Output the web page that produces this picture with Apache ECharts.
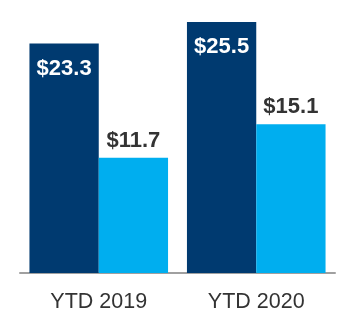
<!DOCTYPE html>
<html><head><meta charset="utf-8">
<script src="https://cdn.jsdelivr.net/npm/echarts@6/dist/echarts.min.js"></script>
<style>html,body{margin:0;padding:0;background:#fff}#c{width:356px;height:332px}</style>
</head><body><div id="c"></div>
<script>
var categories = ['YTD 2019', 'YTD 2020'];
var seriesA = [23.3, 25.5];
var seriesB = [11.7, 15.1];
var chart = echarts.init(document.getElementById('c'));
var font = '"Liberation Sans", Arial, sans-serif';
chart.setOption({
  animation: false,
  grid: {left: 20, right: 21, top: 17, bottom: 59},
  xAxis: {
    type: 'category', data: categories,
    axisLine: {lineStyle: {color: '#a0a0a0', width: 2}},
    axisTick: {show: false},
    axisLabel: {color: '#333', fontSize: 21.5, fontFamily: font, margin: 18}
  },
  yAxis: {type: 'value', min: 0, max: 26, show: false, splitLine: {show: false}},
  series: [
    {type: 'bar', data: seriesA, barGap: '0%', barCategoryGap: '12%',
     itemStyle: {color: '#003A70'},
     label: {show: true, position: 'insideTop', distance: 14, color: '#fff', fontWeight: 'bold', fontSize: 22, fontFamily: font, formatter: function(p){return '$' + p.value.toFixed(1);}}},
    {type: 'bar', data: seriesB,
     itemStyle: {color: '#00AEEF'},
     label: {show: true, position: 'top', distance: 6, color: '#333', fontWeight: 'bold', fontSize: 22, fontFamily: font, formatter: function(p){return '$' + p.value.toFixed(1);}}}
  ]
});
</script></body></html>
